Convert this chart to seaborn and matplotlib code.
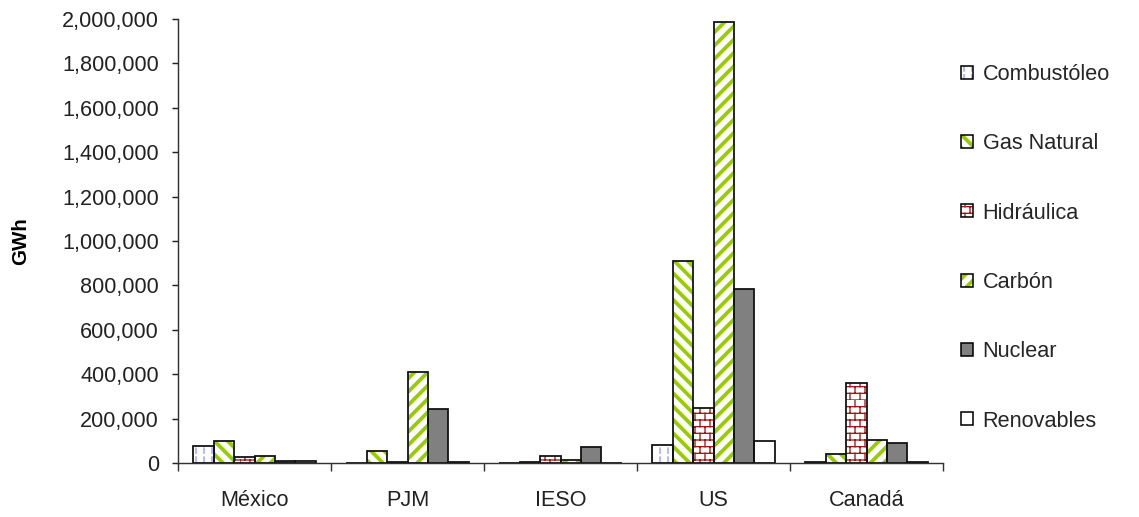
"""
Generacion electrica por fuente (GWh) - barras agrupadas por region.
"""
import warnings
import numpy as np
import pandas as pd
import seaborn as sns
import matplotlib.pyplot as plt
from matplotlib import hatch as mhatch
from matplotlib.path import Path
from matplotlib.patches import Patch, Rectangle
from matplotlib.legend_handler import HandlerTuple
from matplotlib.ticker import FuncFormatter

warnings.filterwarnings("ignore")

regions = ["México", "PJM", "IESO", "US", "Canadá"]
fuels = ["Combustóleo", "Gas Natural", "Hidráulica", "Carbón", "Nuclear", "Renovables"]

combustoleo = [75000, 0, 0, 82000, 4000]
gas_natural = [97000, 56000, 3000, 910000, 40000]
hidraulica = [25000, 4000, 31000, 248000, 360000]
carbon = [32000, 410000, 13000, 1985000, 103000]
nuclear = [8000, 245000, 74000, 785000, 90000]
renovables = [7000, 5000, 0, 97000, 5000]

yticks = list(range(0, 2000001, 200000))


class LineSetHatch(mhatch.HatchPatternBase):
    """custom hatches: 'b' = bricks, 'd' = dashed vertical lines"""

    def __init__(self, hatch, density):
        self.segs = []
        if "b" in hatch:
            rows, cols = 12, 8
            for i in range(rows):
                y0, y1 = i / rows, (i + 1) / rows
                self.segs.append(((0, y0), (1, y0)))
                for k in range(cols):
                    x = (k + 0.5 * (i % 2)) / cols
                    self.segs.append(((x, y0), (x, y1)))
        if "d" in hatch:
            cols, rows = 10, 9
            for k in range(cols):
                x = (k + 0.5) / cols
                for i in range(rows):
                    y0 = i / rows
                    self.segs.append(((x, y0), (x, y0 + 0.6 / rows)))
        self.num_vertices = 2 * len(self.segs)

    def set_vertices_and_codes(self, vertices, codes):
        vertices[:] = np.array(self.segs, dtype=float).reshape(-1, 2)
        codes[0::2] = Path.MOVETO
        codes[1::2] = Path.LINETO


mhatch._hatch_types.append(LineSetHatch)

# fill, hatch, hatch colour, hatch width (pt)
styles = {
    "Combustóleo": ("white", "d", "#8c8cff", 1.1),
    "Gas Natural": ("white", "\\\\", "#99cc00", 3.4),
    "Hidráulica": ("white", "b", "#a01818", 1.2),
    "Carbón": ("white", "//", "#99cc00", 3.4),
    "Nuclear": ("#808080", None, None, 0),
    "Renovables": ("white", None, None, 0),
}
hatch_widths = {v[1]: v[3] for v in styles.values() if v[1]}

df = pd.DataFrame({
    "region": regions * 6,
    "fuel": np.repeat(fuels, len(regions)),
    "gwh": combustoleo + gas_natural + hidraulica + carbon + nuclear + renovables,
})

sns.set_style("ticks")
plt.rcParams["font.family"] = ["Liberation Sans", "DejaVu Sans"]
plt.rcParams["hatch.linewidth"] = 3.4

DPI = 80
fig = plt.figure(figsize=(1139 / DPI, 517 / DPI), dpi=DPI)
ax = fig.add_axes([178 / 1139, 54 / 517, 765 / 1139, 444 / 517])

sns.barplot(data=df, x="region", y="gwh", hue="fuel", order=regions,
            hue_order=fuels, width=0.8, errorbar=None, legend=False,
            palette=["white"] * 6, ax=ax)

for fuel, cont in zip(fuels, ax.containers):
    face, hatch, hcol, hlw = styles[fuel]
    for p in cont.patches:
        p.set_facecolor(face)
        p.set_linewidth(0)
        if hatch:
            p.set_hatch(hatch)
            p.set_edgecolor(hcol)
            if hasattr(p, "set_hatch_linewidth"):
                p.set_hatch_linewidth(hlw)
        ax.add_patch(Rectangle(p.get_xy(), p.get_width(), p.get_height(),
                               fill=False, edgecolor="#111111", linewidth=1.6,
                               zorder=p.get_zorder() + 0.1))

FS = 19.5
ax.set_ylim(0, 2000000)
ax.set_xlim(-0.5, len(regions) - 0.5)
ax.set_yticks(yticks)
ax.yaxis.set_major_formatter(FuncFormatter(lambda v, pos: f"{v:,.0f}"))
ax.set_xticks(range(len(regions)))
ax.set_xticks(np.arange(-0.5, len(regions)), minor=True)
ax.tick_params(axis="x", which="major", length=0, pad=24, labelsize=FS,
               colors="#222222")
ax.tick_params(axis="x", which="minor", length=7, width=1.3, color="#333333")
ax.tick_params(axis="y", length=5, width=1.3, pad=12, labelsize=FS,
               colors="#222222")
for side in ["left", "bottom"]:
    ax.spines[side].set_linewidth(1.3)
    ax.spines[side].set_color("#333333")
sns.despine(ax=ax)
ax.set_xlabel("")
ax.set_ylabel("GWh", fontsize=18.5, fontweight="bold", color="black")
ax.yaxis.set_label_coords(-0.193, 0.5)

handles = []
for fuel in fuels:
    face, hatch, hcol, hlw = styles[fuel]
    if hatch:
        h = (Patch(facecolor=face, edgecolor=hcol, hatch=hatch, linewidth=0),
             Patch(facecolor="none", edgecolor="black", linewidth=1.4))
    else:
        h = Patch(facecolor=face, edgecolor="black", linewidth=1.4)
    handles.append(h)

leg = fig.legend(handles, fuels, loc="upper left",
                 bbox_to_anchor=(961 / 1139, 1 - 64 / 517),
                 frameon=False, fontsize=FS, handlelength=0.55, handleheight=0.55,
                 handletextpad=0.45, labelspacing=2.23, borderpad=0, borderaxespad=0,
                 handler_map={tuple: HandlerTuple(ndivide=1, pad=0)})

# legend copies of the patches lose the per-patch hatch width
for p in leg.findobj(Patch):
    hp = p.get_hatch()
    if hp in hatch_widths and hasattr(p, "set_hatch_linewidth"):
        p.set_hatch_linewidth(hatch_widths[hp])

fig.savefig("out.png", dpi=DPI)
